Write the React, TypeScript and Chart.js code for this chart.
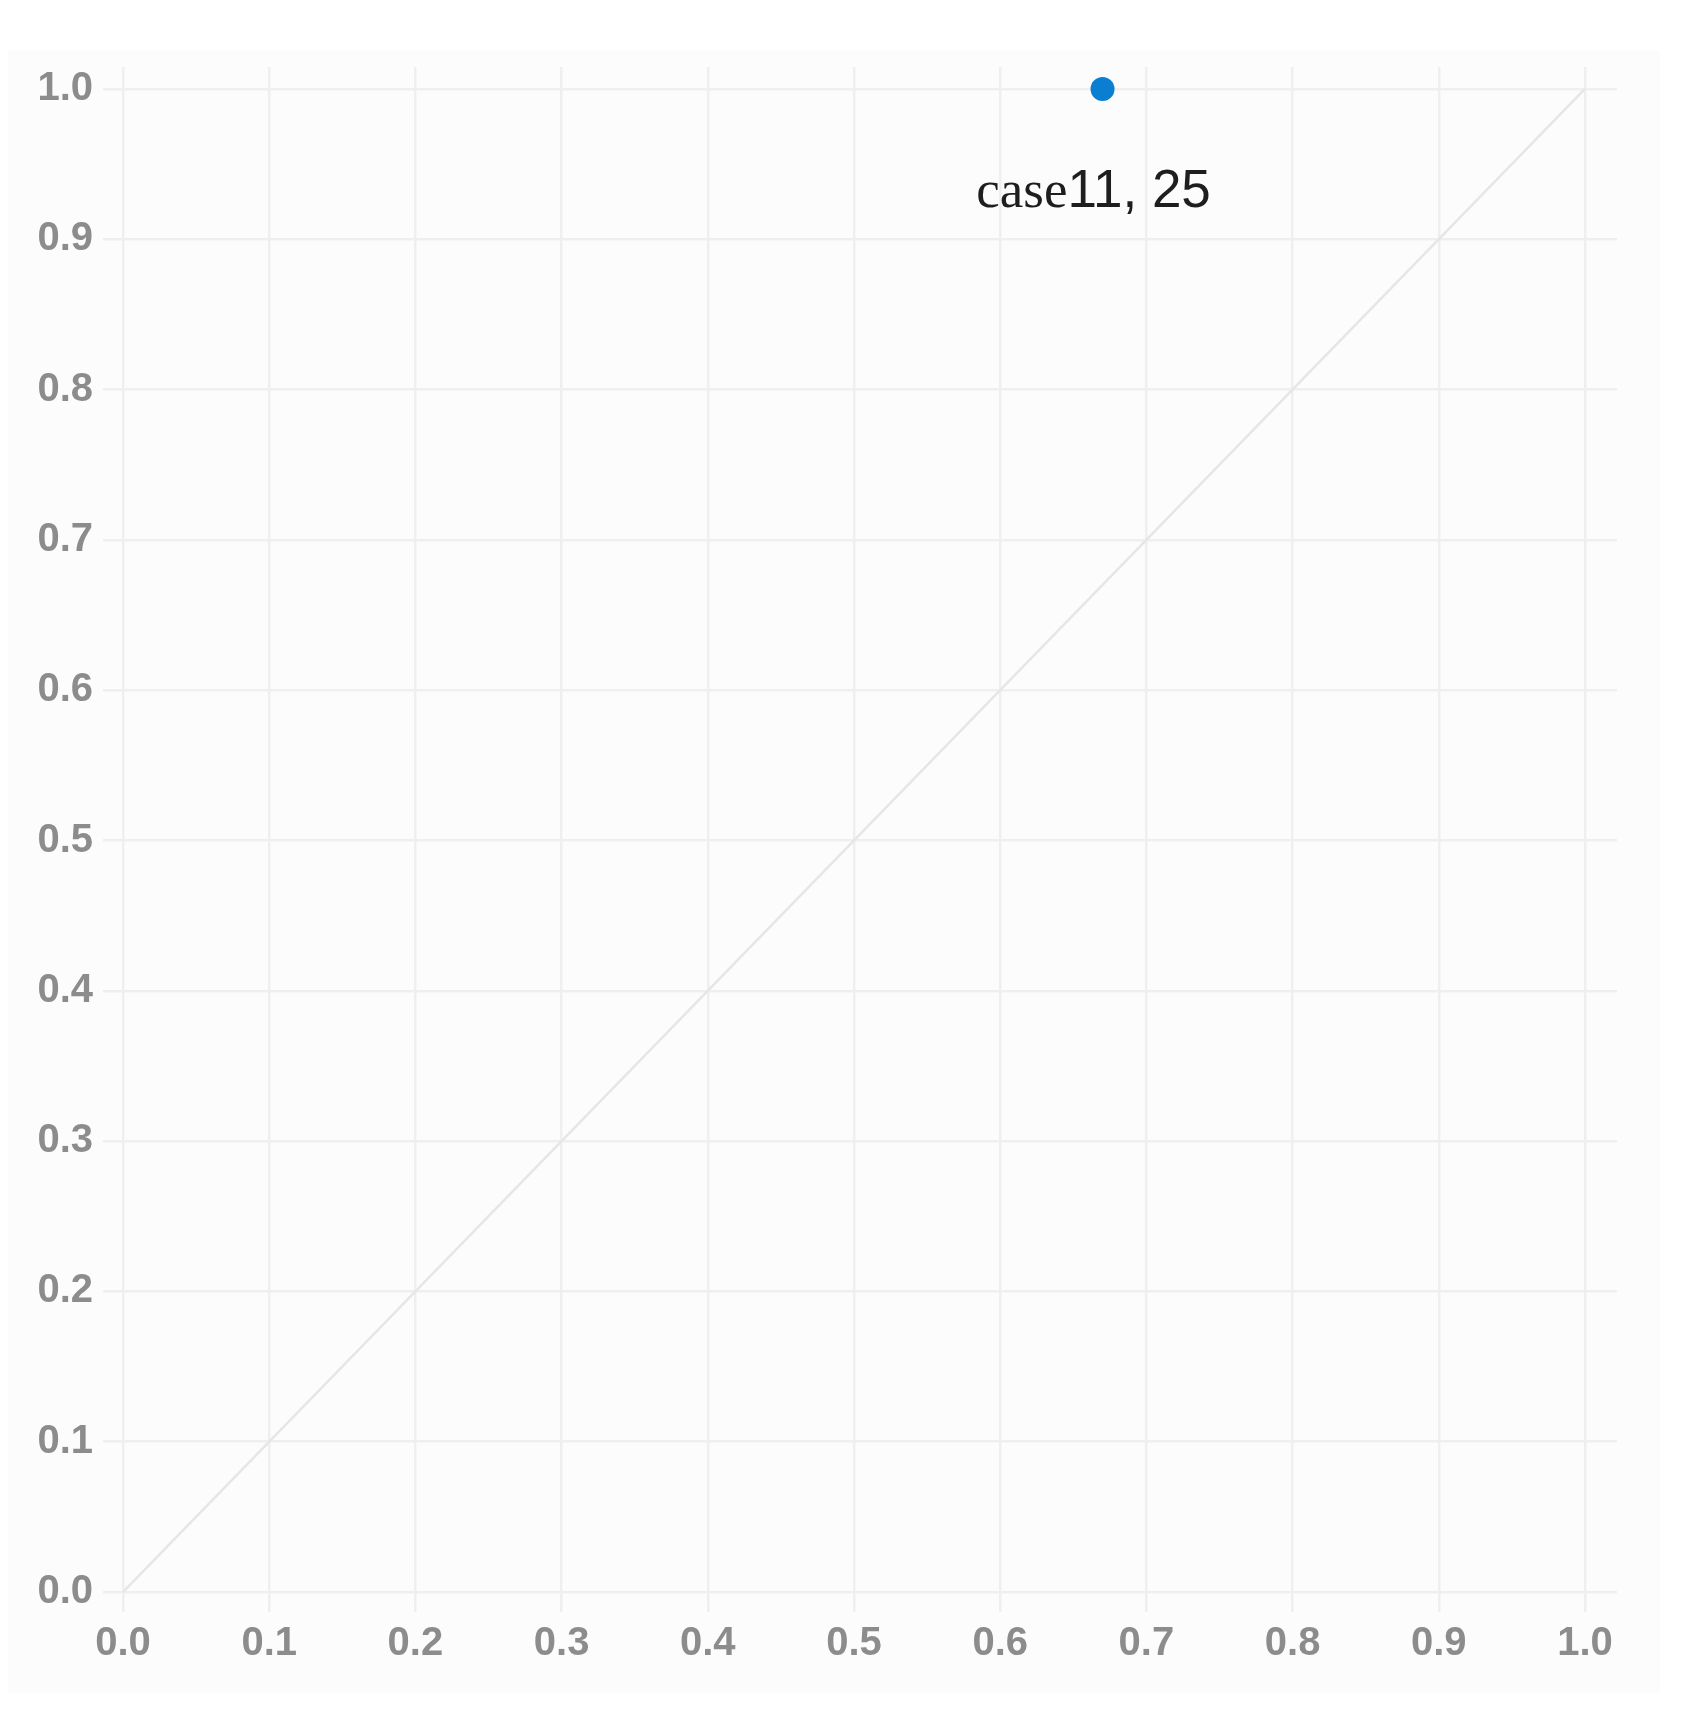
import React, { useEffect, useRef } from "react";
import { Chart, registerables } from "chart.js";

Chart.register(...registerables);

const xTicks = [0, 0.1, 0.2, 0.3, 0.4, 0.5, 0.6, 0.7, 0.8, 0.9, 1.0];
const yTicks = [0, 0.1, 0.2, 0.3, 0.4, 0.5, 0.6, 0.7, 0.8, 0.9, 1.0];
const diagonalX = [0, 1];
const diagonalY = [0, 1];
const pointX = [0.67];
const pointY = [1.0];
const pointLabelWord = ["case"];
const pointLabelNums = ["11, 25"];

const labelPlugin = {
  id: "pointLabel",
  afterDatasetsDraw(chart: any) {
    const meta = chart.getDatasetMeta(1);
    const ctx = chart.ctx;
    meta.data.forEach((el: any, i: number) => {
      const word = pointLabelWord[i];
      const nums = pointLabelNums[i];
      ctx.save();
      ctx.fillStyle = "#1e1e1e";
      ctx.textBaseline = "alphabetic";
      ctx.font = "53px 'Liberation Serif', serif";
      const w1 = ctx.measureText(word).width;
      ctx.font = "53px 'Liberation Sans', Arial, sans-serif";
      const w2 = ctx.measureText(nums).width;
      const total = w1 + w2;
      const cx = el.x - 9;
      const by = el.y + 118;
      const sx = cx - total / 2;
      ctx.font = "53px 'Liberation Serif', serif";
      ctx.textAlign = "left";
      ctx.fillText(word, sx, by);
      ctx.font = "53px 'Liberation Sans', Arial, sans-serif";
      ctx.fillText(nums, sx + w1, by);
      ctx.restore();
    });
  },
};

export default function App() {
  const ref = useRef<HTMLCanvasElement | null>(null);
  useEffect(() => {
    if (!ref.current) return;
    const gridColor = "#efefef";
    const tickFont = { family: "'Liberation Sans', Arial, sans-serif", size: 40, weight: "bold" as const };
    const chart = new Chart(ref.current, {
      type: "scatter",
      data: {
        datasets: [
          {
            type: "line",
            data: diagonalX.map((x, i) => ({ x, y: diagonalY[i] })),
            borderColor: "#e6e6e6",
            borderWidth: 2.5,
            pointRadius: 0,
            fill: false,
          } as any,
          {
            data: pointX.map((x, i) => ({ x, y: pointY[i] })),
            backgroundColor: "#0a7fd2",
            borderColor: "#0a7fd2",
            pointRadius: 12,
            borderWidth: 0,
          },
        ],
      },
      options: {
        animation: false,
        responsive: false,
        maintainAspectRatio: false,
        layout: { padding: { top: 17, right: 43, left: 0, bottom: 0 } },
        plugins: { legend: { display: false }, tooltip: { enabled: false } },
        scales: {
          x: {
            type: "linear",
            min: 0,
            max: 1.0219,
            afterBuildTicks: (s: any) => {
              s.ticks = xTicks.map((v) => ({ value: v }));
            },
            afterFit: (s: any) => {
              s.height = 101;
              s.paddingLeft = 0;
              s.paddingRight = 0;
            },
            border: { display: false },
            grid: { color: gridColor, lineWidth: 2.5, tickLength: 20, tickColor: gridColor },
            ticks: {
              color: "#8c8c8c",
              font: tickFont,
              padding: 8,
              maxRotation: 0,
              callback: (v: any) => Number(v).toFixed(1),
            },
          },
          y: {
            type: "linear",
            min: 0,
            max: 1.0146,
            afterBuildTicks: (s: any) => {
              s.ticks = yTicks.map((v) => ({ value: v }));
            },
            afterFit: (s: any) => {
              s.width = 115;
              s.paddingTop = 0;
              s.paddingBottom = 0;
            },
            border: { display: false },
            grid: { color: gridColor, lineWidth: 2.5, tickLength: 20, tickColor: gridColor },
            ticks: {
              color: "#8c8c8c",
              font: tickFont,
              padding: 10,
              callback: (v: any) => Number(v).toFixed(1),
            },
          },
        },
      },
      plugins: [labelPlugin],
    });
    return () => chart.destroy();
  }, []);
  return (
    <div style={{ marginTop: 42, width: 1652, height: 1643, background: "#fcfcfc" }}>
      <canvas ref={ref} width={1652} height={1643} style={{ display: "block", width: 1652, height: 1643 }} />
    </div>
  );
}
